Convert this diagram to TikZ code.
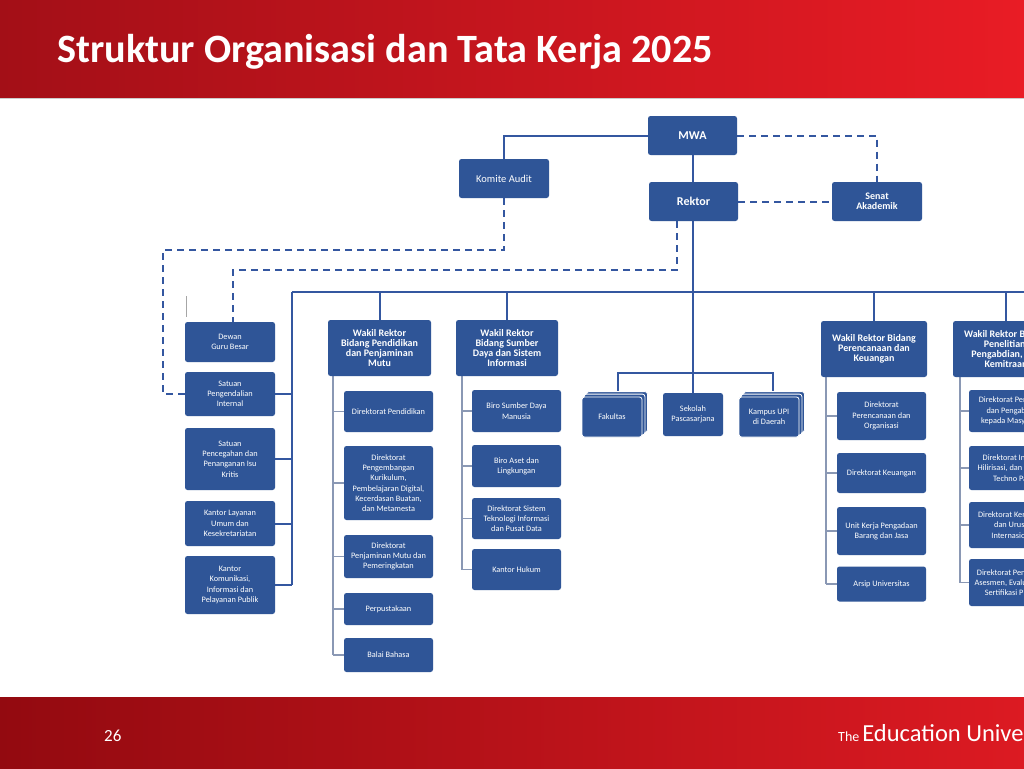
\documentclass[tikz,border=0pt]{standalone}
\usepackage{fontspec}
\setmainfont{Carlito}
\usetikzlibrary{backgrounds}
\definecolor{boxblue}{HTML}{2F5597}
\definecolor{lineblue}{HTML}{3457A0}
\definecolor{subgrey}{HTML}{8A98B4}
\definecolor{hdrL}{HTML}{A30F17}
\definecolor{hdrM}{HTML}{D2171F}
\definecolor{hdrR}{HTML}{E91C25}
\definecolor{ftrL}{HTML}{930A10}
\definecolor{ftrM}{HTML}{A30D14}
\definecolor{ftrR}{HTML}{DC1A22}
\newcommand\fsub{\fontsize{8.3}{10.3}\selectfont}
\newcommand\fhead{\fontsize{10}{10}\selectfont\bfseries}
\newcommand\fbig{\fontsize{12}{13}\selectfont\bfseries}
\newcommand\fmid{\fontsize{10.5}{11}\selectfont}
\newcommand\fsen{\fontsize{10}{9.5}\selectfont\bfseries}
\newcommand\ftitle{\fontsize{40.2}{44}\selectfont\bfseries}
\begin{document}
\begin{tikzpicture}[x=1pt,y=-1pt,
  box/.style={fill=boxblue, rounded corners=2.5pt, text=white, align=center, inner sep=0pt, font=\fsub},
  sbox/.style={box, minimum width=89pt},
  lbox/.style={box, minimum width=90pt},
  wr/.style={box, font=\fhead, minimum height=56pt},
  stackbox/.style={box, minimum width=60pt, minimum height=40pt, draw=white, line width=0.8pt},
  bus/.style={draw=lineblue, line width=2pt},
  subline/.style={draw=subgrey, line width=1.5pt},
  dline/.style={draw=lineblue, line width=2pt, dash pattern=on 7pt off 5pt},
]
\useasboundingbox (0,0) rectangle (1024,768);
\clip (0,0) rectangle (1024,768);
% header and footer bands
\shade[left color=hdrL, middle color=hdrM, right color=hdrR] (0,0) rectangle (1024,98);
\draw[black!20, line width=1pt] (0,98.5) -- (1024,98.5);
\node[anchor=base west, text=white, font=\ftitle, inner sep=0pt] (title) at (57,63) {Struktur Organisasi dan Tata Kerja 2025};
\shade[left color=ftrL, middle color=ftrM, right color=ftrR] (0,697) rectangle (1024,768);
\node[anchor=base west, text=white, font=\fontsize{17}{17}\selectfont, inner sep=0pt] (pg) at (104,741) {26};
\node[anchor=base west, text=white, inner sep=0pt] (brand) at (838,741) {{\fontsize{14}{14}\selectfont The}\hspace{3pt}{\fontsize{24.5}{24.5}\selectfont Education University}};

% top level
\node[box, minimum width=89pt, minimum height=39pt, font=\fbig] (mwa) at (692.5,135.5) {MWA};
\node[box, minimum width=90pt, minimum height=39pt, font=\fmid] (komite) at (504,178.5) {Komite Audit};
\node[box, minimum width=89pt, minimum height=39pt, font=\fbig] (rektor) at (693.5,201.5) {Rektor};
\node[box, minimum width=90pt, minimum height=39pt, font=\fsen] (senat) at (877,201.5) {Senat\\Akademik};

% left column
\node[lbox, minimum height=40pt] (dewan) at (230,342) {Dewan\\Guru Besar};
\node[lbox, minimum height=44pt] (spi) at (230,394) {Satuan\\Pengendalian\\Internal};
\node[lbox, minimum height=62pt] (sppik) at (230,459) {Satuan\\Pencegahan dan\\Penanganan Isu\\Kritis};
\node[lbox, minimum height=45pt] (klu) at (230,523.5) {Kantor Layanan\\Umum dan\\Kesekretariatan};
\node[lbox, minimum height=58pt] (kkip) at (230,585) {Kantor\\Komunikasi,\\Informasi dan\\Pelayanan Publik};

% column 2
\node[wr, minimum width=103pt] (wr1) at (379.5,348) {Wakil Rektor\\Bidang Pendidikan\\dan Penjaminan\\Mutu};
\node[sbox, minimum height=41pt] (dpend) at (388.5,411.5) {Direktorat Pendidikan};
\node[sbox, minimum height=74pt] (dpk) at (388.5,483) {Direktorat\\Pengembangan\\Kurikulum,\\Pembelajaran Digital,\\Kecerdasan Buatan,\\dan Metamesta};
\node[sbox, minimum height=43pt] (dpm) at (388.5,556.5) {Direktorat\\Penjaminan Mutu dan\\Pemeringkatan};
\node[sbox, minimum height=32pt] (perpus) at (388.5,609) {Perpustakaan};
\node[sbox, minimum height=34pt] (balai) at (388.5,655) {Balai Bahasa};

% column 3
\node[wr, minimum width=102pt] (wr2) at (507,348) {Wakil Rektor\\Bidang Sumber\\Daya dan Sistem\\Informasi};
\node[sbox, minimum height=42pt] (bsdm) at (516.5,411) {Biro Sumber Daya\\Manusia};
\node[sbox, minimum height=42pt] (bal) at (516.5,466) {Biro Aset dan\\Lingkungan};
\node[sbox, minimum height=41pt] (dsti) at (516.5,518.5) {Direktorat Sistem\\Teknologi Informasi\\dan Pusat Data};
\node[sbox, minimum height=41pt] (hukum) at (516.5,569.5) {Kantor Hukum};

% middle
\node[stackbox] (fak) at (612,417) {Fakultas};
\node[box, minimum width=60pt, minimum height=43pt] (sps) at (693,414.5) {Sekolah\\Pascasarjana};
\node[stackbox] (kampus) at (769,417) {Kampus UPI\\di Daerah};

% column 4
\node[wr, minimum width=106pt] (wr3) at (874,349) {Wakil Rektor Bidang\\Perencanaan dan\\Keuangan};
\node[sbox, minimum height=48pt] (dpo) at (881.5,416) {Direktorat\\Perencanaan dan\\Organisasi};
\node[sbox, minimum height=40pt] (dk) at (881.5,473) {Direktorat Keuangan};
\node[sbox, minimum height=48pt] (ukpbj) at (881.5,531) {Unit Kerja Pengadaan\\Barang dan Jasa};
\node[sbox, minimum height=35pt] (arsip) at (881.5,584) {Arsip Universitas};

% column 5 (cut by the page edge)
\node[wr, minimum width=106pt] (wr4) at (1006,349) {Wakil Rektor Bidang\\Penelitian,\\Pengabdian, dan\\Kemitraan};
\node[sbox, minimum height=42pt] (d51) at (1013.5,411) {Direktorat Penelitian\\dan Pengabdian\\kepada Masyarakat};
\node[sbox, minimum height=44pt] (d52) at (1013.5,468) {Direktorat Inovasi,\\Hilirisasi, dan Science\\Techno Park};
\node[sbox, minimum height=46pt] (d53) at (1013.5,525) {Direktorat Kerjasama\\dan Urusan\\Internasional};
\node[sbox, minimum height=47pt] (d54) at (1013.5,582.5) {Direktorat Pendidikan\\Asesmen, Evaluasi, dan\\Sertifikasi Profesi};

\begin{pgfonlayer}{background}
  \fill[white] (0,98) rectangle (1024,697);
  \coordinate (busL) at (292,292);
  \coordinate (busR) at (1024,292);
  \coordinate (mid) at (693,373);
  \coordinate (mL) at (618,373);
  \coordinate (mR) at (773,373);
  \coordinate (ka) at (163,250);
  \coordinate (kb) at (233,270);
  \coordinate (v1) at (333,0);
  \coordinate (v2) at (462,0);
  \coordinate (v3) at (826,0);
  \coordinate (v4) at (960,0);
  % solid lines
  \draw[bus] (mwa.west) -| (komite.north);
  \draw[bus] (mid |- mwa.south) -- (mid |- rektor.north);
  \draw[bus] (busL) -- (busR);
  \draw[bus] (mid |- rektor.south) -- (mid) -- (sps);
  \draw[bus] (mL |- fak.center) -- (mL) -- (mR) -- (mR |- kampus.center);
  \draw[bus] (busL) -- (busL |- kkip.east);
  \foreach \n in {spi,sppik,klu,kkip} \draw[bus] (\n.east) -- (busL |- \n.east);
  \foreach \n in {wr1,wr2,wr3,wr4} \draw[bus] (\n.north) -- (\n.north |- busL);
  % sub lines
  \draw[subline] (v1 |- wr1.south) -- (v1 |- balai.west);
  \foreach \n in {dpend,dpk,dpm,perpus,balai} \draw[subline] (\n.west) -- (v1 |- \n.west);
  \draw[subline] (v2 |- wr2.south) -- (v2 |- hukum.west);
  \foreach \n in {bsdm,bal,dsti,hukum} \draw[subline] (\n.west) -- (v2 |- \n.west);
  \draw[subline] (v3 |- wr3.south) -- (v3 |- arsip.west);
  \foreach \n in {dpo,dk,ukpbj,arsip} \draw[subline] (\n.west) -- (v3 |- \n.west);
  \draw[subline] (v4 |- wr4.south) -- (v4 |- d54.west);
  \foreach \n in {d51,d52,d53,d54} \draw[subline] (\n.west) -- (v4 |- \n.west);
  % dashed lines
  \draw[dline] (komite.south) |- (ka) |- (spi.west);
  \draw[dline] ([xshift=-16.5pt]rektor.south) |- (kb) -- (kb |- dewan.north);
  \draw[dline] (mwa.east) -| (senat.north);
  \draw[dline] (rektor.east) -- (senat.west);
  % stacked layers behind Fakultas and Kampus
  \foreach \n in {fak,kampus}{
    \foreach \s in {5,2.5}{
      \path[fill=boxblue, draw=white, line width=0.8pt, rounded corners=2.5pt]
        ([shift={(\s pt,\s pt)}]\n.south west) rectangle ([shift={(\s pt,\s pt)}]\n.north east);
    }
  }
\end{pgfonlayer}
% small grey mark
\draw[black!35, line width=1pt] (186,296) -- (186,317);
\end{tikzpicture}
\end{document}
